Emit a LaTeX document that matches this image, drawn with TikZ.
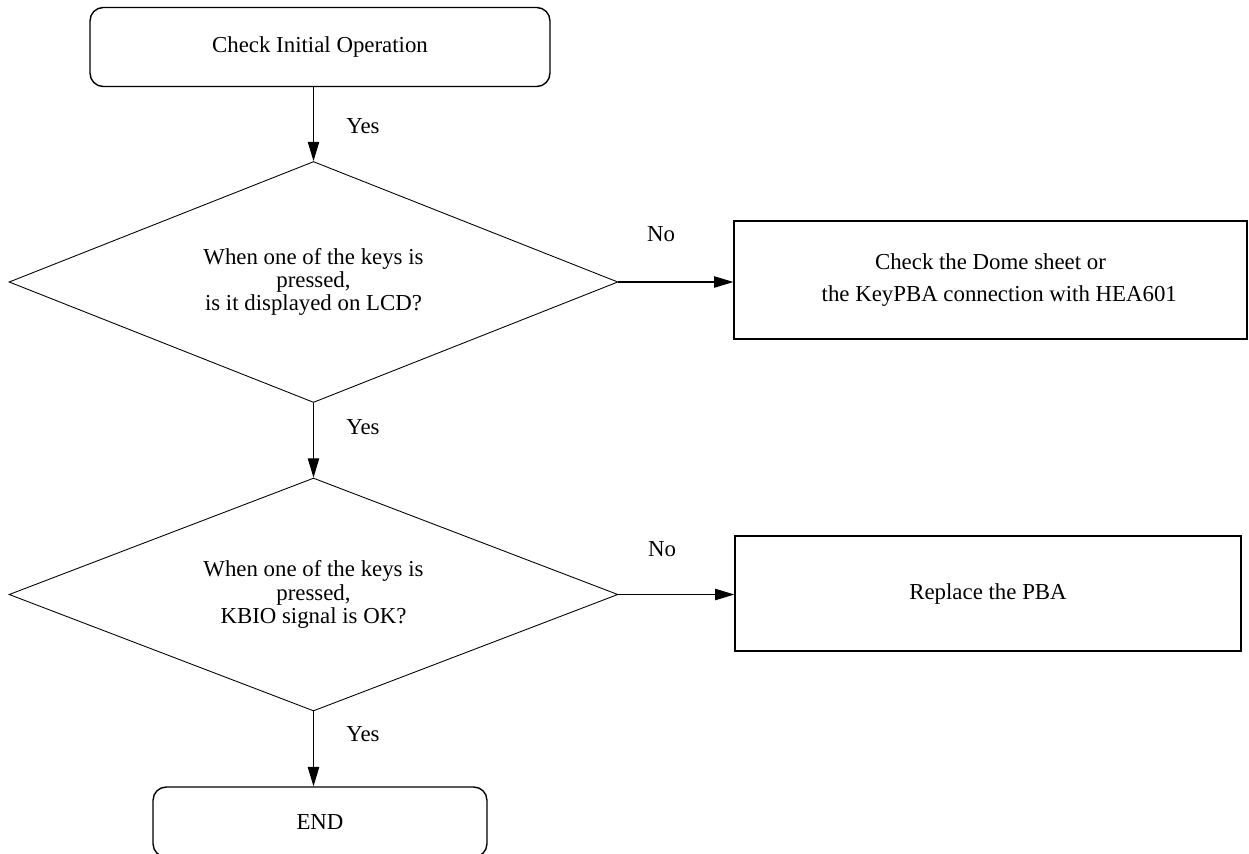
\documentclass[tikz,border=0pt]{standalone}
\usepackage{fontspec}
\setmainfont{Liberation Serif}
\usetikzlibrary{shapes.geometric,arrows.meta}

\tikzset{
  txt/.style={font=\fontsize{13}{12.2}\selectfont},
  termbox/.style={txt,draw,line width=0.8pt,rounded corners=7.5pt,inner sep=0pt},
  actbox/.style={txt,draw,line width=0.8pt,inner sep=0pt,align=center},
  query/.style={txt,draw,diamond,line width=0.5pt,inner sep=0pt,shape aspect=2.5,align=center},
  conn/.style={line width=0.6pt,-{Triangle[length=11pt,width=6.5pt]}},
}

\begin{document}
\begin{tikzpicture}[x=0.02cm,y=-0.02cm]
\useasboundingbox (0,0) rectangle (1249,853);
\clip (0,0) rectangle (1249,853);

% Boxes
\node[termbox,minimum width=9.2cm,minimum height=1.58cm] (start) at (320,47) {Check Initial Operation};
\node[query,minimum width=12.18cm,minimum height=4.82cm] (keylcd) at (313.5,282)
  {When one of the keys is\\[1pt]pressed,\\[1pt]is it displayed on LCD?};
\node[actbox,minimum width=10.26cm,minimum height=2.36cm] (dome) at (990.5,280)
  {Check the Dome sheet or\\[6.5pt]\hspace{10pt}the KeyPBA connection with HEA601};
\node[query,minimum width=12.18cm,minimum height=4.66cm] (kbio) at (313.5,594.5)
  {When one of the keys is\\[1pt]pressed,\\[1pt]KBIO signal is OK?};
\node[actbox,minimum width=10.12cm,minimum height=2.3cm] (pba) at (988,593.5) {Replace the PBA};
\node[termbox,minimum width=6.68cm,minimum height=1.4cm] (finish) at (320,822) {END};

% Arrows
\draw[conn] (keylcd.north |- start.south) -- (keylcd.north);
\draw[conn] (keylcd.east) -- (dome.west |- keylcd.east);
\draw[conn] (keylcd.south) -- (kbio.north);
\draw[conn] (kbio.east) -- (pba.west |- kbio.east);
\draw[conn] (kbio.south) -- (kbio.south |- finish.north);

% Labels
\node[txt] (yes1) at (363,126) {Yes};
\node[txt] (no1) at (661,234) {No};
\node[txt] (yes2) at (363,427) {Yes};
\node[txt] (no2) at (662,549) {No};
\node[txt] (yes3) at (363,734) {Yes};

\end{tikzpicture}
\end{document}
